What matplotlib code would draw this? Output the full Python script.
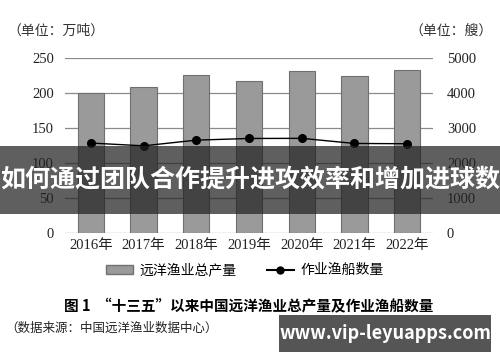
import matplotlib.pyplot as plt
from matplotlib.patches import Rectangle
from matplotlib.lines import Line2D
from matplotlib.patches import Patch

years = ["2016年", "2017年", "2018年", "2019年", "2020年", "2021年", "2022年"]
output = [199.8, 208.6, 225.8, 217.0, 231.7, 224.7, 233.0]  # 万吨
vessels = [2571, 2491, 2654, 2701, 2705, 2559, 2551]  # 艘

cjk = ["Noto Sans CJK SC", "DejaVu Sans"]
num = ["Liberation Serif", "Noto Sans CJK SC"]

fig = plt.figure(figsize=(5, 3.62), dpi=100)
ax = fig.add_axes([0.13, 0.356, 0.736, 0.484])
ax2 = ax.twinx()

x = list(range(len(years)))
ax.bar(x, output, width=0.5, color="#9a9a9a", edgecolor="#707070", linewidth=0.8, zorder=2)
ax.set_ylim(0, 250)
ax.set_yticks([0, 50, 100, 150, 200, 250])
ax.yaxis.grid(True, color="#8a8a8a", linewidth=0.9, zorder=0)
ax.set_axisbelow(True)
ax.set_xlim(-0.49, 6.49)
ax.set_xticks(x)
ax.set_xticklabels(years, fontfamily=num, fontsize=10.5)

ax2.plot(x, vessels, color="black", linewidth=1.0, marker="o", markersize=5.5, zorder=3)
ax2.set_ylim(0, 5000)
ax2.set_yticks([0, 1000, 2000, 3000, 4000, 5000])

for a in (ax, ax2):
    for s in a.spines.values():
        s.set_visible(False)
    a.tick_params(length=0, labelsize=10.5, colors="#222222")
    for lab in a.get_yticklabels():
        lab.set_fontfamily(num)
ax.tick_params(axis="y", pad=8)
ax2.tick_params(axis="y", pad=10)
ax.tick_params(axis="x", pad=4)

fig.text(0.015, 0.905, "（单位：万吨）", fontfamily=cjk, fontsize=10, color="#333333")
fig.text(0.985, 0.905, "（单位：艘）", fontfamily=cjk, fontsize=10, color="#333333", ha="right")

handles = [Patch(facecolor="#9a9a9a", edgecolor="#707070"),
           Line2D([0], [0], color="black", marker="o", markersize=5)]
fig.legend(handles, ["远洋渔业总产量", "作业渔船数量"], loc="center", bbox_to_anchor=(0.49, 0.253),
           ncol=2, frameon=False, prop={"family": cjk, "size": 10}, columnspacing=2.2,
           handlelength=1.9, handletextpad=0.5)

fig.text(0.498, 0.155, "图 1  “十三五”以来中国远洋渔业总产量及作业渔船数量", fontfamily=cjk,
         fontsize=10.5, fontweight="bold", ha="center", va="center")
fig.text(0.01, 0.093, "（数据来源：中国远洋渔业数据中心）", fontfamily=cjk, fontsize=9,
         ha="left", va="center", color="#222222")

# overlay banner
fig.patches.append(Rectangle((0, 0.409), 1, 0.188, transform=fig.transFigure,
                             facecolor="#222222", alpha=0.72, zorder=10))
fig.text(0.5, 0.503, "如何通过团队合作提升进攻效率和增加进球数", fontfamily=cjk, fontsize=18,
         fontweight="bold", color="white", ha="center", va="center", zorder=11)

# watermark
fig.patches.append(Rectangle((0.558, 0.028), 0.424, 0.102, transform=fig.transFigure,
                             facecolor="#555555", zorder=10))
fig.text(0.77, 0.08, "www.vip-leyuapps.com", fontfamily=cjk, fontsize=13,
         fontweight="bold", color="white", ha="center", va="center", zorder=11)

fig.savefig("out.png", dpi=100)
